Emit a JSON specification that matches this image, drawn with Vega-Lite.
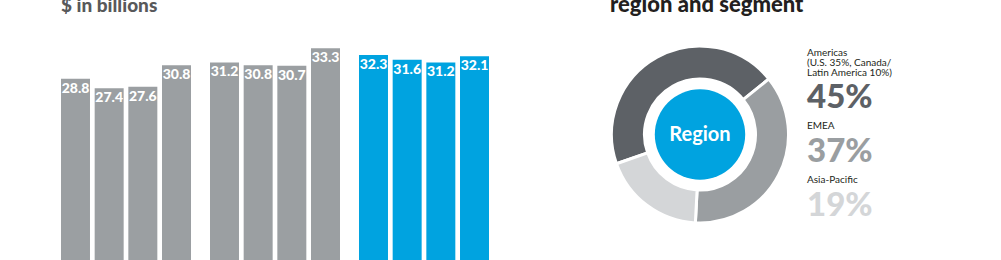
{
  "$schema": "https://vega.github.io/schema/vega-lite/v6.json",
  "padding": {"left": 61, "top": -7, "right": 0, "bottom": 0},
  "background": "white",
  "config": {"view": {"stroke": null}, "font": "Lato"},
  "spacing": 116,
  "resolve": {"scale": {"color": "independent"}},
  "hconcat": [
    {
      "title": {"text": "$ in billions", "anchor": "start", "frame": "group", "baseline": "alphabetic", "offset": 13.5, "fontSize": 19, "fontWeight": 900, "color": "#58595b", "font": "Lato"},
      "width": 428,
      "height": 230,
      "data": {"values": [
        {"group": "G1", "quarter": "Q1", "value": 28.8},
        {"group": "G1", "quarter": "Q2", "value": 27.4},
        {"group": "G1", "quarter": "Q3", "value": 27.6},
        {"group": "G1", "quarter": "Q4", "value": 30.8},
        {"group": "G2", "quarter": "Q1", "value": 31.2},
        {"group": "G2", "quarter": "Q2", "value": 30.8},
        {"group": "G2", "quarter": "Q3", "value": 30.7},
        {"group": "G2", "quarter": "Q4", "value": 33.3},
        {"group": "G3", "quarter": "Q1", "value": 32.3},
        {"group": "G3", "quarter": "Q2", "value": 31.6},
        {"group": "G3", "quarter": "Q3", "value": 31.2},
        {"group": "G3", "quarter": "Q4", "value": 32.1}
      ]},
      "encoding": {
        "x": {"field": "group", "type": "nominal", "axis": null, "sort": null, "scale": {"paddingInner": 0.1275, "paddingOuter": 0}},
        "xOffset": {"field": "quarter", "type": "nominal", "sort": null, "scale": {"paddingInner": 0.139, "paddingOuter": 0}},
        "y": {"field": "value", "type": "quantitative", "axis": null, "scale": {"domain": [0, 33.92], "nice": false}}
      },
      "layer": [
        {
          "mark": {"type": "bar"},
          "encoding": {
            "color": {"field": "group", "type": "nominal", "legend": null, "scale": {"domain": ["G1", "G2", "G3"], "range": ["#9b9fa2", "#9b9fa2", "#00a3e0"]}}
          }
        },
        {
          "mark": {"type": "text", "baseline": "alphabetic", "dy": 14, "fontSize": 14, "fontWeight": 900, "color": "white", "font": "Lato"},
          "encoding": {"text": {"field": "value", "type": "quantitative", "format": ".1f"}}
        }
      ]
    },
    {
      "spacing": 3,
      "resolve": {"scale": {"color": "independent"}},
      "hconcat": [
        {
          "title": {"text": "region and segment", "anchor": "start", "frame": "group", "baseline": "alphabetic", "offset": 6.5, "fontSize": 22, "fontWeight": 900, "color": "#231f20", "font": "Lato"},
          "width": 180,
          "height": 181,
          "layer": [
            {
              "data": {"values": [
                {"region": "Americas", "pct": 45, "rank": 1},
                {"region": "EMEA", "pct": 37, "rank": 2},
                {"region": "Asia-Pacific", "pct": 19, "rank": 3}
              ]},
              "mark": {"type": "arc", "outerRadius": 88.5, "innerRadius": 55.5, "stroke": "white", "strokeWidth": 3},
              "encoding": {
                "theta": {"field": "pct", "type": "quantitative", "stack": true, "scale": {"range": [4.376, 10.659]}},
                "order": {"field": "rank", "type": "quantitative"},
                "color": {"field": "region", "type": "nominal", "legend": null, "scale": {"domain": ["Americas", "EMEA", "Asia-Pacific"], "range": ["#5d6166", "#9a9ea1", "#d4d6d8"]}}
              }
            },
            {
              "data": {"values": [{"label": "Region"}]},
              "mark": {"type": "point", "filled": true, "shape": "circle", "size": 8171, "color": "#00a3e0", "opacity": 1},
              "encoding": {}
            },
            {
              "data": {"values": [{"label": "Region"}]},
              "mark": {"type": "text", "fontSize": 20, "fontWeight": "bold", "color": "white", "baseline": "middle", "font": "Lato"},
              "encoding": {"text": {"field": "label"}}
            }
          ]
        },
        {
          "width": 150,
          "height": 216,
          "data": {"values": [
            {"region": "Americas", "desc": "Americas\n(U.S. 35%, Canada/\nLatin America 10%)", "pct": "45%"},
            {"region": "EMEA", "desc": "EMEA", "pct": "37%"},
            {"region": "Asia-Pacific", "desc": "Asia-Pacific", "pct": "19%"}
          ]},
          "encoding": {
            "y": {"field": "region", "type": "nominal", "axis": null, "scale": {"type": "point", "padding": 1, "domain": ["Americas", "EMEA", "Asia-Pacific"]}},
            "x": {"value": 0}
          },
          "layer": [
            {
              "transform": [{"filter": "datum.region === 'Americas'"}],
              "mark": {"type": "text", "align": "left", "baseline": "alphabetic", "dy": -42, "fontSize": 10, "lineHeight": 10, "lineBreak": "\n", "color": "#231f20", "font": "Lato"},
              "encoding": {"text": {"field": "desc"}}
            },
            {
              "transform": [{"filter": "datum.region !== 'Americas'"}],
              "mark": {"type": "text", "align": "left", "baseline": "alphabetic", "dy": -23, "fontSize": 10, "color": "#231f20", "font": "Lato"},
              "encoding": {"text": {"field": "desc"}}
            },
            {
              "mark": {"type": "text", "align": "left", "baseline": "alphabetic", "dy": 10, "fontSize": 33, "fontWeight": 900, "font": "Lato"},
              "encoding": {
                "text": {"field": "pct"},
                "color": {"field": "region", "type": "nominal", "legend": null, "scale": {"domain": ["Americas", "EMEA", "Asia-Pacific"], "range": ["#5d6166", "#9a9ea1", "#d4d6d8"]}}
              }
            }
          ]
        }
      ]
    }
  ]
}
